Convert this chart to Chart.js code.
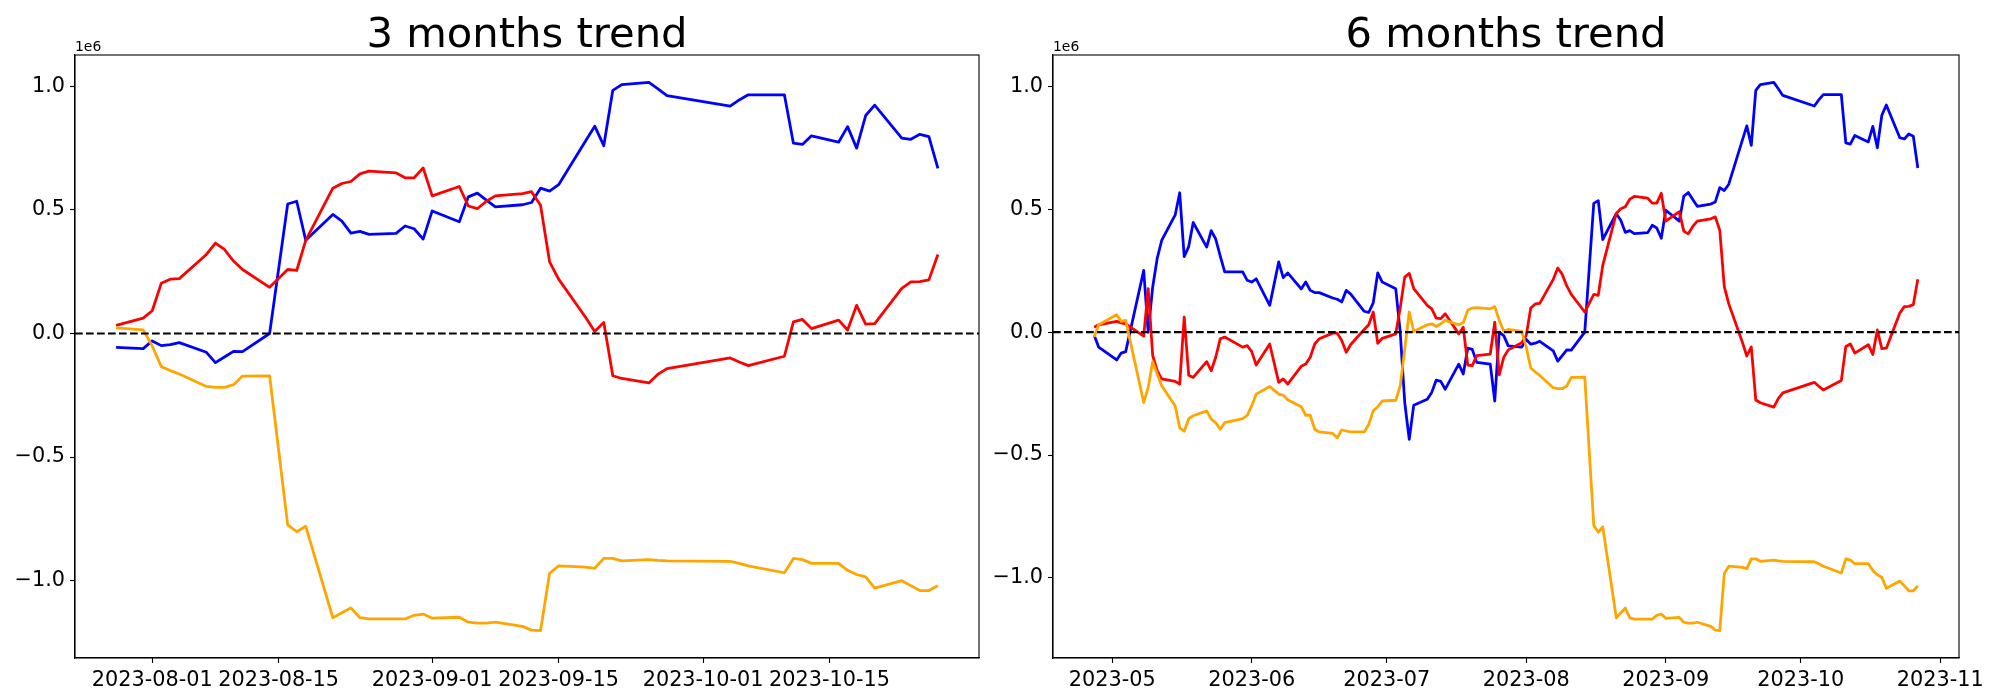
<!DOCTYPE html>
<html>
<head>
<meta charset="utf-8">
<script src="https://cdn.jsdelivr.net/npm/chart.js@4.4.0/dist/chart.umd.min.js"></script>
<style>
  body { margin: 0; background: #fff; }
  canvas { position: absolute; top: 0; }
</style>
</head>
<body>
<canvas id="chart3m" width="990" height="700" style="left:0px"></canvas>
<canvas id="chart6m" width="1010" height="700" style="left:990px"></canvas>
<script>
// values are in units of 1e6
const dates3m = [
    '2023-07-28','2023-07-31','2023-08-01','2023-08-02','2023-08-03','2023-08-04',
    '2023-08-07','2023-08-08','2023-08-09','2023-08-10','2023-08-11','2023-08-14',
    '2023-08-16','2023-08-17','2023-08-18','2023-08-21','2023-08-22','2023-08-23','2023-08-24','2023-08-25',
    '2023-08-28','2023-08-29','2023-08-30','2023-08-31','2023-09-01',
    '2023-09-04','2023-09-05','2023-09-06','2023-09-07','2023-09-08',
    '2023-09-11','2023-09-12','2023-09-13','2023-09-14','2023-09-15',
    '2023-09-18','2023-09-19','2023-09-20','2023-09-21','2023-09-22',
    '2023-09-25','2023-09-26','2023-09-27','2023-10-04','2023-10-05','2023-10-06',
    '2023-10-10','2023-10-11','2023-10-12','2023-10-13',
    '2023-10-16','2023-10-17','2023-10-18','2023-10-19','2023-10-20',
    '2023-10-23','2023-10-24','2023-10-25','2023-10-26','2023-10-27'
];
const blue3m = [
    -0.056, -0.061, -0.030, -0.049, -0.045, -0.037,
    -0.076, -0.118, -0.095, -0.072, -0.073, 0.000,
    0.524, 0.535, 0.377, 0.482, 0.455, 0.406, 0.413, 0.401,
    0.405, 0.435, 0.424, 0.382, 0.496,
    0.452, 0.553, 0.568, 0.540, 0.512,
    0.521, 0.530, 0.588, 0.576, 0.602,
    0.780, 0.839, 0.760, 0.984, 1.007,
    1.016, 0.990, 0.963, 0.920, 0.945, 0.966,
    0.966, 0.770, 0.765, 0.800,
    0.774, 0.837, 0.750, 0.882, 0.924,
    0.791, 0.786, 0.806, 0.797, 0.668
];
const red3m = [
    0.033, 0.062, 0.092, 0.203, 0.220, 0.222,
    0.320, 0.366, 0.340, 0.293, 0.259, 0.187,
    0.259, 0.255, 0.377, 0.588, 0.607, 0.615, 0.646, 0.657,
    0.650, 0.630, 0.630, 0.670, 0.557,
    0.595, 0.516, 0.505, 0.535, 0.557,
    0.566, 0.574, 0.519, 0.290, 0.220,
    0.065, 0.008, 0.045, -0.171, -0.182,
    -0.200, -0.165, -0.142, -0.099, -0.115, -0.130,
    -0.092, 0.047, 0.057, 0.020,
    0.054, 0.014, 0.114, 0.038, 0.040,
    0.183, 0.209, 0.210, 0.217, 0.320
];
const orange3m = [
    0.023, 0.015, -0.050, -0.134, -0.150, -0.164,
    -0.214, -0.218, -0.218, -0.207, -0.172, -0.171,
    -0.774, -0.802, -0.780, -1.150, -1.130, -1.110, -1.150, -1.155,
    -1.155, -1.155, -1.140, -1.135, -1.152,
    -1.148, -1.168, -1.172, -1.172, -1.168,
    -1.185, -1.200, -1.202, -0.970, -0.940,
    -0.945, -0.950, -0.910, -0.910, -0.920,
    -0.915, -0.918, -0.920, -0.922, -0.930, -0.940,
    -0.968, -0.910, -0.915, -0.930,
    -0.930, -0.958, -0.975, -0.985, -1.030,
    -1.000, -1.020, -1.040, -1.040, -1.020
];
const ticks3m = ['2023-08-01','2023-08-15','2023-09-01','2023-09-15','2023-10-01','2023-10-15'];

const dates6m = [
    '2023-04-27','2023-04-28','2023-05-02','2023-05-03','2023-05-04',
    '2023-05-08','2023-05-09','2023-05-10','2023-05-11','2023-05-12',
    '2023-05-15','2023-05-16','2023-05-17','2023-05-18','2023-05-19',
    '2023-05-22','2023-05-23','2023-05-24','2023-05-25','2023-05-26',
    '2023-05-30','2023-05-31','2023-06-01','2023-06-02','2023-06-05',
    '2023-06-07','2023-06-08','2023-06-09','2023-06-12','2023-06-13','2023-06-14','2023-06-15','2023-06-16',
    '2023-06-19','2023-06-20','2023-06-21','2023-06-22','2023-06-23',
    '2023-06-26','2023-06-27','2023-06-28','2023-06-29','2023-06-30',
    '2023-07-03','2023-07-04','2023-07-05','2023-07-06','2023-07-07',
    '2023-07-10','2023-07-11','2023-07-12','2023-07-13','2023-07-14',
    '2023-07-17','2023-07-18','2023-07-19','2023-07-20','2023-07-21',
    '2023-07-24','2023-07-25','2023-07-26','2023-07-27',
    ...dates3m
];
const blue6m = [
    -0.013, -0.061, -0.113, -0.085, -0.079,
    0.251, 0.000, 0.184, 0.300, 0.373,
    0.477, 0.567, 0.307, 0.348, 0.446,
    0.346, 0.413, 0.379, 0.310, 0.245,
    0.245, 0.211, 0.204, 0.217, 0.109,
    0.286, 0.222, 0.241, 0.176, 0.204, 0.170, 0.161, 0.161,
    0.139, 0.134, 0.123, 0.170, 0.155,
    0.085, 0.080, 0.119, 0.241, 0.204,
    0.177, 0.000, -0.286, -0.436, -0.297,
    -0.273, -0.245, -0.195, -0.200, -0.232,
    -0.130, -0.170, -0.065, -0.070, -0.123,
    -0.130, -0.280, 0.000, -0.014,
    -0.056, -0.061, -0.030, -0.049, -0.045, -0.037,
    -0.076, -0.118, -0.095, -0.072, -0.073, 0.000,
    0.524, 0.535, 0.377, 0.482, 0.455, 0.406, 0.413, 0.401,
    0.405, 0.435, 0.424, 0.382, 0.496,
    0.452, 0.553, 0.568, 0.540, 0.512,
    0.521, 0.530, 0.588, 0.576, 0.602,
    0.780, 0.839, 0.760, 0.984, 1.007,
    1.016, 0.990, 0.963, 0.920, 0.945, 0.966,
    0.966, 0.770, 0.765, 0.800,
    0.774, 0.837, 0.750, 0.882, 0.924,
    0.791, 0.786, 0.806, 0.797, 0.668
];
const red6m = [
    0.020, 0.030, 0.044, 0.038, 0.034,
    -0.016, 0.177, -0.095, -0.157, -0.190,
    -0.200, -0.211, 0.061, -0.175, -0.184,
    -0.120, -0.157, -0.102, -0.027, -0.020,
    -0.061, -0.055, -0.079, -0.134, -0.048,
    -0.204, -0.190, -0.211, -0.139, -0.130, -0.102, -0.048, -0.027,
    -0.004, -0.004, -0.034, -0.082, -0.050,
    0.011, 0.030, 0.082, -0.045, -0.025,
    -0.007, 0.100, 0.224, 0.239, 0.177,
    0.109, 0.095, 0.057, 0.055, 0.075,
    -0.007, 0.020, -0.134, -0.136, -0.095,
    -0.089, 0.041, -0.174, -0.102,
    -0.072, -0.043, -0.013, 0.098, 0.115, 0.117,
    0.215, 0.261, 0.235, 0.188, 0.154, 0.082,
    0.154, 0.150, 0.272, 0.483, 0.502, 0.510, 0.541, 0.552,
    0.545, 0.525, 0.525, 0.565, 0.452,
    0.490, 0.411, 0.400, 0.430, 0.452,
    0.461, 0.469, 0.414, 0.185, 0.115,
    -0.040, -0.097, -0.060, -0.276, -0.287,
    -0.305, -0.270, -0.247, -0.204, -0.220, -0.235,
    -0.197, -0.058, -0.048, -0.085,
    -0.051, -0.091, 0.009, -0.067, -0.065,
    0.078, 0.104, 0.105, 0.112, 0.215
];
const orange6m = [
    -0.020, 0.030, 0.071, 0.044, 0.048,
    -0.286, -0.225, -0.120, -0.170, -0.218,
    -0.300, -0.389, -0.403, -0.352, -0.340,
    -0.320, -0.354, -0.368, -0.395, -0.368,
    -0.352, -0.338, -0.300, -0.252, -0.221,
    -0.252, -0.256, -0.275, -0.303, -0.338, -0.338, -0.395, -0.406,
    -0.412, -0.430, -0.398, -0.402, -0.406,
    -0.406, -0.375, -0.320, -0.303, -0.280,
    -0.277, -0.218, -0.068, 0.082, 0.003,
    0.030, 0.034, 0.023, 0.034, 0.048,
    0.030, 0.038, 0.089, 0.098, 0.100,
    0.095, 0.104, 0.048, 0.004,
    0.011, 0.003, -0.062, -0.146, -0.162, -0.176,
    -0.226, -0.230, -0.230, -0.219, -0.184, -0.183,
    -0.786, -0.814, -0.792, -1.162, -1.142, -1.122, -1.162, -1.167,
    -1.167, -1.167, -1.152, -1.147, -1.164,
    -1.160, -1.180, -1.184, -1.184, -1.180,
    -1.197, -1.212, -1.214, -0.982, -0.952,
    -0.957, -0.962, -0.922, -0.922, -0.932,
    -0.927, -0.930, -0.932, -0.934, -0.942, -0.952,
    -0.980, -0.922, -0.927, -0.942,
    -0.942, -0.970, -0.987, -0.997, -1.042,
    -1.012, -1.032, -1.052, -1.052, -1.032
];
const ticks6m = ['2023-05','2023-06','2023-07','2023-08','2023-09','2023-10','2023-11'];
const yTicks = [-1.0, -0.5, 0.0, 0.5, 1.0];

function dayNum(s) {
    const p = s.split('-').map(Number);
    return Date.UTC(p[0], p[1] - 1, p[2] || 1) / 86400000;
}

// frame, title and the 1e6 offset label
const framePlugin = {
    id: 'frame',
    afterDraw(chart, args, opts) {
        const ctx = chart.ctx, a = chart.chartArea;
        ctx.save();
        ctx.strokeStyle = '#000';
        ctx.lineWidth = 1.1;
        ctx.strokeRect(a.left, a.top, a.right - a.left, a.bottom - a.top);
        ctx.fillStyle = '#000';
        ctx.textBaseline = 'alphabetic';
        ctx.font = '41.7px "DejaVu Sans"';
        ctx.textAlign = 'center';
        ctx.fillText(opts.title, (a.left + a.right) / 2, a.top - 8.5);
        ctx.font = '13.9px "DejaVu Sans"';
        ctx.textAlign = 'left';
        ctx.fillText('1e6', a.left, a.top - 4);
        ctx.restore();
    }
};

function makeChart(id, title, dates, blue, red, orange, tickLabels, yWidth, padRight) {
    const xs = dates.map(dayNum);
    const x0 = xs[0], x1 = xs[xs.length - 1];
    const xMin = x0 - (x1 - x0) * 0.05, xMax = x1 + (x1 - x0) * 0.05;
    const all = blue.concat(red, orange, [0]);
    const lo = Math.min(...all), hi = Math.max(...all);
    const yMin = lo - (hi - lo) * 0.05, yMax = hi + (hi - lo) * 0.05;

    const pts = vals => vals.map((v, i) => ({ x: xs[i], y: v }));
    const line = (data, color) => ({
        data: pts(data), borderColor: color, borderWidth: 2.78,
        pointRadius: 0, tension: 0, fill: false, borderJoinStyle: 'round'
    });

    const ctx = document.getElementById(id).getContext('2d');
    return new Chart(ctx, {
        type: 'line',
        data: {
            datasets: [
                {
                    data: [{ x: xMin, y: 0 }, { x: xMax, y: 0 }],
                    borderColor: '#000', borderWidth: 2.08, borderDash: [7.7, 3.3],
                    pointRadius: 0, fill: false
                },
                line(orange, '#ffa500'),
                line(red, '#ff0000'),
                line(blue, '#0000ff')
            ]
        },
        options: {
            responsive: false,
            animation: false,
            devicePixelRatio: 1,
            layout: { padding: { top: 55, left: 0, right: padRight, bottom: 0 } },
            plugins: {
                legend: { display: false },
                tooltip: { enabled: false },
                frame: { title: title }
            },
            scales: {
                x: {
                    type: 'linear',
                    min: xMin,
                    max: xMax,
                    afterBuildTicks: s => { s.ticks = tickLabels.map(t => ({ value: dayNum(t) })); },
                    afterFit: s => { s.height = 42; },
                    ticks: {
                        autoSkip: false, maxRotation: 0, minRotation: 0, padding: 5,
                        color: '#000', font: { family: 'DejaVu Sans', size: 20.8 },
                        callback: (v, i) => tickLabels[i]
                    },
                    grid: { drawOnChartArea: false, tickLength: 5, tickWidth: 1.1, tickColor: '#000' },
                    border: { display: true, color: '#000', width: 1.1 }
                },
                y: {
                    min: yMin,
                    max: yMax,
                    afterBuildTicks: s => { s.ticks = yTicks.map(v => ({ value: v })); },
                    afterFit: s => { s.width = yWidth; },
                    ticks: {
                        padding: 5, color: '#000', font: { family: 'DejaVu Sans', size: 20.8 },
                        callback: v => (v < 0 ? '\u2212' : '') + Math.abs(v).toFixed(1)
                    },
                    grid: { drawOnChartArea: false, tickLength: 5, tickWidth: 1.1, tickColor: '#000' },
                    border: { display: true, color: '#000', width: 1.1 }
                }
            }
        },
        plugins: [framePlugin]
    });
}

makeChart('chart3m', '3 months trend', dates3m, blue3m, red3m, orange3m, ticks3m, 75, 11);
makeChart('chart6m', '6 months trend', dates6m, blue6m, red6m, orange6m, ticks6m, 63, 41);
</script>
</body>
</html>
